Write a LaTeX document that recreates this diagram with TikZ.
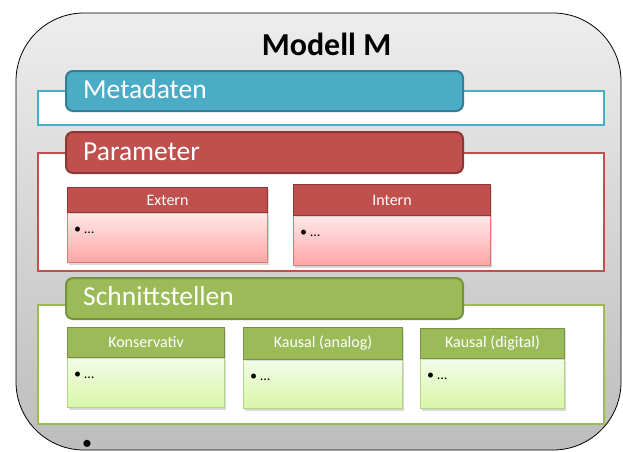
\documentclass[tikz,border=0pt]{standalone}
\usepackage{fontspec}
\setmainfont{Carlito}
\usetikzlibrary{shadows}
\definecolor{tealF}{HTML}{4BACC6}
\definecolor{tealD}{HTML}{357D91}
\definecolor{redF}{HTML}{C0504D}
\definecolor{redD}{HTML}{8C3836}
\definecolor{redB}{HTML}{E07A78}
\definecolor{grnF}{HTML}{9BBB59}
\definecolor{grnD}{HTML}{76923C}
\definecolor{grnB}{HTML}{B3D585}
\tikzset{
  outerbox/.style={draw=black, line width=0.8pt, rounded corners=68pt,
    top color=black!7, bottom color=black!26, minimum width=605pt,
    minimum height=437pt, inner sep=0pt},
  secbox/.style={fill=white, line width=2.4pt, anchor=north west,
    minimum width=566pt, inner sep=0pt},
  tab/.style={line width=2pt, rounded corners=7pt, anchor=north west,
    minimum width=397pt, inner sep=0pt},
  tabtext/.style={anchor=base west, text=white, inner sep=0pt,
    font=\fontsize{27.5}{27.5}\selectfont},
  subhead/.style={line width=1pt, anchor=north west, inner sep=0pt,
    text=white, font=\fontsize{16}{16}\selectfont,
    drop shadow={opacity=0.25, shadow xshift=1.5pt, shadow yshift=-1.5pt}},
  redbody/.style={draw=redB, line width=1pt, top color=red!9, bottom color=red!35!white,
    anchor=north west, inner sep=0pt,
    drop shadow={opacity=0.3, shadow xshift=1.5pt, shadow yshift=-2pt}},
  grnbody/.style={draw=grnB, line width=1pt, top color={rgb,255:red,244;green,252;blue,234},
    bottom color={rgb,255:red,215;green,246;blue,167},
    anchor=north west, inner sep=0pt,
    drop shadow={opacity=0.3, shadow xshift=1.5pt, shadow yshift=-2pt}},
  bullettext/.style={anchor=base west, inner sep=0pt, font=\fontsize{14}{14}\selectfont}
}
\begin{document}
\begin{tikzpicture}[x=1pt, y=-1pt]
\useasboundingbox (0,0) rectangle (623,451);

% outer model frame
\node[outerbox] (modell) at (318.5,231.5) {};
\node[anchor=base, inner sep=0pt, font=\bfseries\fontsize{32}{32}\selectfont] (title) at (326.5,55) {Modell M};

% Metadaten
\node[secbox, draw=tealF, minimum height=34pt] (metabox) at (37,90) {};
\node[tab, fill=tealF, draw=tealD, minimum height=40pt] (metatab) at (65,70) {};
\node[tabtext] (metalabel) at (83,98) {Metadaten};

% Parameter
\node[secbox, draw=redF, minimum height=118pt] (parbox) at (37,152) {};
\node[tab, fill=redF, draw=redD, minimum height=41pt] (partab) at (65,131) {};
\node[tabtext] (parlabel) at (83,160) {Parameter};

\node[redbody, minimum width=200pt, minimum height=50pt] (externbody) at (67,212) {};
\node[subhead, fill=redF, draw=redD, minimum width=200pt, minimum height=25pt] (externhead) at (67,187) {Extern};
\node[bullettext] (externitem) at (74,233) {• …};

\node[redbody, minimum width=197pt, minimum height=50pt] (internbody) at (293,215) {};
\node[subhead, fill=redF, draw=redD, minimum width=197pt, minimum height=31pt] (internhead) at (293,184) {Intern};
\node[bullettext] (internitem) at (300,236) {• …};

% Schnittstellen
\node[secbox, draw=grnF, minimum height=119pt] (schbox) at (37,304) {};
\node[tab, fill=grnF, draw=grnD, minimum height=41pt] (schtab) at (65,277) {};
\node[tabtext] (schlabel) at (83,305) {Schnittstellen};

\node[grnbody, minimum width=157pt, minimum height=50pt] (konsbody) at (67,357) {};
\node[subhead, fill=grnF, draw=grnD, minimum width=157pt, minimum height=30pt] (konshead) at (67,327) {Konservativ};
\node[bullettext] (konsitem) at (74,378) {• …};

\node[grnbody, minimum width=159pt, minimum height=49pt] (analogbody) at (243,359) {};
\node[subhead, fill=grnF, draw=grnD, minimum width=159pt, minimum height=32pt] (analoghead) at (243,327) {Kausal (analog)};
\node[bullettext] (analogitem) at (250,380) {• …};

\node[grnbody, minimum width=144pt, minimum height=50pt] (digitalbody) at (420,358) {};
\node[subhead, fill=grnF, draw=grnD, minimum width=144pt, minimum height=30pt] (digitalhead) at (420,328) {Kausal (digital)};
\node[bullettext] (digitalitem) at (427,379) {• …};

% empty bullet line below the sections
\node[inner sep=0pt, anchor=south, font=\fontsize{20}{20}\selectfont] (dot) at (87,450) {•};
\end{tikzpicture}
\end{document}
